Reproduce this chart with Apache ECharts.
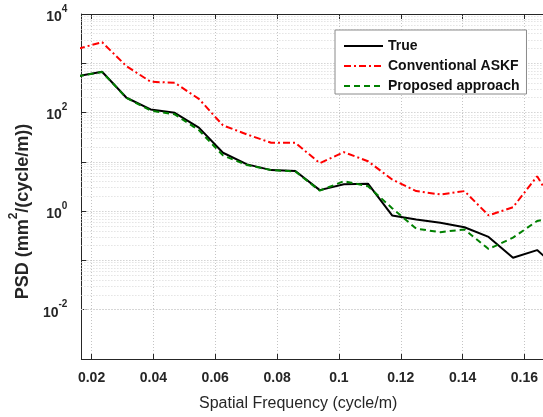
<!DOCTYPE html>
<html>
<head>
<meta charset="utf-8">
<script src="https://cdn.jsdelivr.net/npm/echarts@6/dist/echarts.min.js"></script>
<style>html,body{margin:0;padding:0;background:#fff}#c{width:543px;height:417px}</style>
</head>
<body>
<div id="c"></div>
<script>
const freq = [0.0156, 0.0234, 0.0313, 0.0391, 0.0469, 0.0547, 0.0625, 0.0703, 0.0781, 0.0859, 0.0938, 0.1016, 0.1094, 0.1172, 0.125, 0.1328, 0.1406, 0.1484, 0.1563, 0.1641, 0.1719];
const trueVals = [550, 673, 200, 116, 99, 49.5, 15.3, 8.9, 6.8, 6.5, 2.67, 3.5, 3.6, 0.82, 0.68, 0.58, 0.47, 0.30, 0.113, 0.162, 0.06];
const askfVals = [1970, 2680, 873, 422, 402, 190, 55, 36, 24.4, 24.4, 9.4, 15.7, 10.3, 4.4, 2.55, 2.18, 2.55, 0.82, 1.2, 5.1, 0.8];
const propVals = [545, 665, 198, 110, 92, 44, 13.5, 8.6, 6.8, 6.4, 2.6, 4.05, 3.2, 1.15, 0.44, 0.375, 0.425, 0.17, 0.29, 0.63, 0.8];
const yLabelExps = [-2, 0, 2, 4];
const minorMant = [2, 3, 4, 5, 6, 7, 8, 9];
const decades = [-3, -2, -1, 0, 1, 2, 3];

const FONT = "'Liberation Sans', Arial, sans-serif";
const TXT = '#262626';
const pair = (xs, ys) => xs.map((x, i) => [x, ys[i]]);

const minorLines = [];
decades.forEach(e => minorMant.forEach(m => minorLines.push({ yAxis: m * Math.pow(10, e) })));

const chart = echarts.init(document.getElementById('c'), null, { renderer: 'canvas' });
chart.setOption({
  animation: false,
  backgroundColor: '#ffffff',
  grid: { left: 72, top: 14, width: 475, height: 345, containLabel: false },
  xAxis: [{
    type: 'value', min: 0.0167, max: 0.166, splitNumber: 7,
    axisLine: { show: true, lineStyle: { color: TXT, width: 1 } },
    axisTick: { show: true, inside: true, length: 5, lineStyle: { color: TXT } },
    axisLabel: {
      color: TXT, fontFamily: FONT, fontSize: 14, fontWeight: 'bold', margin: 12,
      showMinLabel: false, showMaxLabel: false,
      formatter: v => { const r = Math.round(v * 100); return Math.abs(v * 100 - r) < 1e-6 && r % 2 === 0 ? String(+(r / 100).toFixed(2)) : ''; }
    },
    splitLine: { show: true, lineStyle: { color: '#c4c4c4', type: [1, 2], width: 1 } },
    name: 'Spatial Frequency (cycle/m)', nameLocation: 'middle', nameGap: 37,
    nameTextStyle: { color: TXT, fontFamily: FONT, fontSize: 16, padding: [0, 28, 0, 0] }
  }, {
    type: 'value', position: 'top', min: 0.0167, max: 0.166, splitNumber: 7,
    axisLine: { show: true, lineStyle: { color: TXT, width: 1 } },
    axisTick: { show: true, inside: true, length: 5, lineStyle: { color: TXT } },
    axisLabel: { show: false }, splitLine: { show: false }
  }],
  yAxis: {
    type: 'log', logBase: 10, min: 1e-3, max: 1e4, interval: 1,
    axisLine: { show: true, lineStyle: { color: TXT, width: 1 } },
    axisTick: { show: true, inside: true, length: 5, lineStyle: { color: TXT } },
    axisLabel: {
      margin: 14, fontFamily: FONT, color: TXT,
      formatter: v => { const e = Math.round(Math.log10(v)); return yLabelExps.includes(e) ? '{b|10}{s|' + e + '}' : ''; },
      rich: {
        b: { fontSize: 14, fontWeight: 'bold', color: TXT, fontFamily: FONT, verticalAlign: 'bottom', lineHeight: 20 },
        s: { fontSize: 10, fontWeight: 'bold', color: TXT, fontFamily: FONT, verticalAlign: 'top', lineHeight: 20, padding: [0, 0, 8, 0] }
      }
    },
    splitLine: { show: true, lineStyle: { color: '#bdbdbd', type: [1, 2], width: 1 } },
    name: '{a|PSD (mm}{s|2}{a|/(cycle/m))}', nameLocation: 'middle', nameGap: 43, nameRotate: 90,
    nameTextStyle: {
      padding: [0, 50, 0, 0],
      rich: {
        a: { fontSize: 18, fontWeight: 'bold', color: TXT, fontFamily: FONT, lineHeight: 24, verticalAlign: 'bottom' },
        s: { fontSize: 12, fontWeight: 'bold', color: TXT, fontFamily: FONT, lineHeight: 24, verticalAlign: 'top', padding: [0, 0, 9, 0] }
      }
    }
  },
  legend: {
    orient: 'vertical', left: 335, top: 30,
    padding: [9, 7, 1, 8], itemWidth: 39, itemHeight: 14, itemGap: 6,
    backgroundColor: '#ffffff', borderColor: '#8a8a8a', borderWidth: 1, borderRadius: 0,
    itemStyle: { opacity: 0 },
    textStyle: { color: '#111', fontFamily: FONT, fontSize: 14, fontWeight: 'bold' },
    data: ['True', 'Conventional ASKF', 'Proposed approach']
  },
  series: [{
    name: 'True', type: 'line', data: pair(freq, trueVals), showSymbol: false, symbol: 'none',
    lineStyle: { color: '#000000', width: 2 }, itemStyle: { color: '#000000' }, z: 3,
    markLine: {
      silent: true, symbol: 'none', label: { show: false },
      lineStyle: { color: '#d6d6d6', type: [1, 2], width: 1 },
      data: minorLines, z: 1
    }
  }, {
    name: 'Conventional ASKF', type: 'line', data: pair(freq, askfVals), showSymbol: false, symbol: 'none',
    lineStyle: { color: '#ff0000', width: 2, type: [7, 3, 2, 3] }, itemStyle: { color: '#ff0000' }, z: 4
  }, {
    name: 'Proposed approach', type: 'line', data: pair(freq, propVals), showSymbol: false, symbol: 'none',
    lineStyle: { color: '#008000', width: 2, type: [6, 4] }, itemStyle: { color: '#008000' }, z: 5
  }]
});
</script>
</body>
</html>
